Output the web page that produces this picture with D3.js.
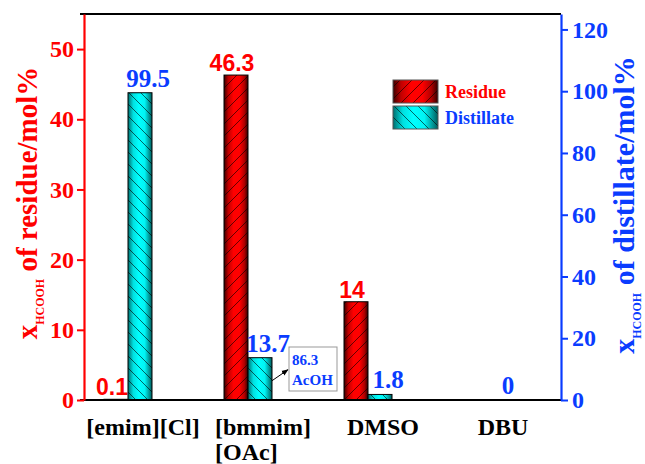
<!DOCTYPE html>
<html><head><meta charset="utf-8">
<script src="https://cdn.jsdelivr.net/npm/d3@7"></script>
<style>body{margin:0;background:#fff}svg{display:block}</style>
</head><body>
<script>
const categories = [["[emim][Cl]"], ["[bmmim]", "[OAc]"], ["DMSO"], ["DBU"]];
const catKeys = ["emim", "bmmim", "DMSO", "DBU"];
const residue = [0.1, 46.3, 14, null];
const distillate = [99.5, 13.7, 1.8, 0];
const leftTicks = [0, 10, 20, 30, 40, 50];
const rightTicks = [0, 20, 40, 60, 80, 100, 120];
const seriesNames = ["Residue", "Distillate"];
const noteLines = ["86.3", "AcOH"];

const W = 645, H = 464;
const RED = "#ff0000", BLUE = "#0a3cff";
const SERIF = "'Liberation Serif', 'Times New Roman', serif";
const SANS = "'Liberation Sans', Arial, sans-serif";
const svg = d3.select("body").append("svg").attr("width", W).attr("height", H);
const defs = svg.append("defs");

function grad(id, stops) {
  const g = defs.append("linearGradient").attr("id", id).attr("x1", "0").attr("x2", "1").attr("y1", "0").attr("y2", "0");
  stops.forEach(s => g.append("stop").attr("offset", s[0]).attr("stop-color", s[1]));
}
grad("gRed", [["0%", "#3a0000"], ["18%", "#c00000"], ["40%", "#ff0000"], ["65%", "#ff0000"], ["85%", "#b00000"], ["100%", "#300000"]]);
grad("gCyan", [["0%", "#006c6c"], ["22%", "#00e0e0"], ["45%", "#00ffff"], ["70%", "#00f4f4"], ["100%", "#005a5a"]]);
function hatch(id, d) {
  const p = defs.append("pattern").attr("id", id).attr("patternUnits", "userSpaceOnUse").attr("width", 12).attr("height", 12);
  p.append("path").attr("d", d).attr("stroke", "#000").attr("stroke-width", 0.8).attr("stroke-opacity", 0.75).attr("fill", "none");
}
hatch("hRed", "M0,12 L12,0 M-3,3 L3,-3 M9,15 L15,9");
hatch("hCyan", "M0,0 L12,12 M-3,9 L3,15 M9,-3 L15,3");
defs.append("marker").attr("id", "arr").attr("viewBox", "0 0 10 10").attr("refX", 9).attr("refY", 5)
  .attr("markerWidth", 7).attr("markerHeight", 7).attr("orient", "auto")
  .append("path").attr("d", "M0,1 L10,5 L0,9 Z").attr("fill", "#000");

const L = 84, R = 561, T = 14, B = 400;
const x = d3.scaleBand().domain(catKeys).range([68, 548]);
const xs = d3.scaleBand().domain(seriesNames).range([36, 84]);
const yL = d3.scaleLinear().domain([0, 55]).range([B, T]);
const yR = d3.scaleLinear().domain([0, 125]).range([B, T]);

svg.append("line").attr("x1", L - 4).attr("x2", R).attr("y1", T).attr("y2", T).attr("stroke", "#000").attr("stroke-width", 2);

function drawBar(x0, w, y0, y1, g, h) {
  if (y1 - y0 <= 0) return;
  svg.append("rect").attr("x", x0).attr("y", y0).attr("width", w).attr("height", y1 - y0).attr("fill", `url(#${g})`);
  svg.append("rect").attr("x", x0).attr("y", y0).attr("width", w).attr("height", y1 - y0).attr("fill", `url(#${h})`)
    .attr("stroke", "#000").attr("stroke-width", 1);
}

catKeys.forEach((k, i) => {
  const bx = x(k);
  if (residue[i] != null) {
    const x0 = bx + xs("Residue");
    drawBar(x0, xs.bandwidth(), yL(residue[i]), yL(0), "gRed", "hRed");
    svg.append("text").attr("x", x0 + xs.bandwidth() / 2 - 4).attr("y", yL(residue[i]) - 4)
      .attr("text-anchor", "middle").attr("font-family", SANS).attr("font-weight", "bold")
      .attr("font-size", 23).attr("fill", RED).text(residue[i]);
  }
  const x1 = bx + xs("Distillate");
  drawBar(x1, xs.bandwidth(), yR(distillate[i]), yR(0), "gCyan", "hCyan");
  svg.append("text").attr("x", x1 + xs.bandwidth() / 2 + 8).attr("y", yR(distillate[i]) - 6)
    .attr("text-anchor", "middle").attr("font-family", SERIF).attr("font-weight", "bold")
    .attr("font-size", 25).attr("fill", BLUE).text(distillate[i]);
});

svg.append("line").attr("x1", L - 4).attr("x2", R).attr("y1", B).attr("y2", B).attr("stroke", "#000").attr("stroke-width", 2);

const gl = svg.append("g").attr("transform", `translate(${L},0)`)
  .call(d3.axisLeft(yL).tickValues(leftTicks).tickSize(7).tickPadding(3).tickSizeOuter(0));
gl.select(".domain").attr("stroke", RED).attr("stroke-width", 2.2);
gl.selectAll(".tick line").attr("stroke", RED).attr("stroke-width", 2);
gl.selectAll(".tick text").attr("fill", RED).attr("font-family", SERIF).attr("font-weight", "bold").attr("font-size", 24);

const gr = svg.append("g").attr("transform", `translate(${R},0)`)
  .call(d3.axisRight(yR).tickValues(rightTicks).tickSize(7).tickPadding(4).tickSizeOuter(0));
gr.select(".domain").attr("stroke", BLUE).attr("stroke-width", 2.2);
gr.selectAll(".tick line").attr("stroke", BLUE).attr("stroke-width", 2);
gr.selectAll(".tick text").attr("fill", BLUE).attr("font-family", SERIF).attr("font-weight", "bold").attr("font-size", 24);

catKeys.forEach((k, i) => {
  const cx = x(k) + x.bandwidth() / 2 + 15;
  const lines = categories[i];
  const t = svg.append("text").attr("font-family", SERIF).attr("font-weight", "bold")
    .attr("font-size", 24).attr("fill", "#000");
  lines.forEach((ln, j) => t.append("tspan").attr("y", 435 + j * 25).text(ln));
  const w = d3.max(t.selectAll("tspan").nodes(), n => n.getComputedTextLength());
  t.selectAll("tspan").attr("x", cx - w / 2);
});

function title(xp, yp, color, rest, fs) {
  const t = svg.append("text").attr("transform", `translate(${xp},${yp}) rotate(-90)`).attr("text-anchor", "middle")
    .attr("font-family", SERIF).attr("font-weight", "bold").attr("fill", color).attr("font-size", fs);
  t.append("tspan").text("x");
  t.append("tspan").attr("font-size", 12).attr("dy", 7).text("HCOOH");
  t.append("tspan").attr("dy", -7).text(" " + rest);
}
title(37, 203, RED, "of residue/mol%", 29);
title(634, 205, BLUE, "of distillate/mol%", 30);

const lg = svg.append("g");
[["gRed", "hRed", RED, 80], ["gCyan", "hCyan", BLUE, 106]].forEach((s, i) => {
  lg.append("rect").attr("x", 393).attr("y", s[3]).attr("width", 45).attr("height", 23).attr("fill", `url(#${s[0]})`);
  lg.append("rect").attr("x", 393).attr("y", s[3]).attr("width", 45).attr("height", 23).attr("fill", `url(#${s[1]})`)
    .attr("stroke", "#555").attr("stroke-width", 1);
  lg.append("text").attr("x", 445).attr("y", s[3] + 18).attr("font-family", SERIF)
    .attr("font-weight", "bold").attr("font-size", 18).attr("fill", s[2]).text(seriesNames[i]);
});

const bx = x("bmmim") + xs("Distillate") + xs.bandwidth();
svg.append("line").attr("x1", bx).attr("y1", yR(distillate[1]) + 23).attr("x2", bx + 16).attr("y2", yR(distillate[1]) + 12)
  .attr("stroke", "#000").attr("stroke-width", 1).attr("marker-end", "url(#arr)");
svg.append("rect").attr("x", bx + 17).attr("y", 347).attr("width", 48).attr("height", 44).attr("fill", "#fff")
  .attr("stroke", "#999").attr("stroke-width", 1);
noteLines.forEach((s, j) => svg.append("text").attr("x", bx + 20).attr("y", 365 + j * 20)
  .attr("font-family", SERIF).attr("font-weight", "bold").attr("font-size", 15)
  .attr("fill", BLUE).text(s));
</script>
</body></html>
